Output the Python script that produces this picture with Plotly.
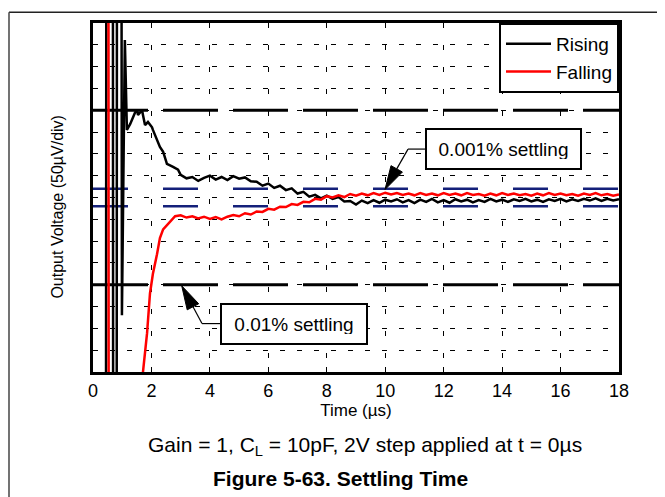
import plotly.graph_objects as go

## settling time curves, time in us, output in uV (50uV per division)
rising_t = [0.0, 0.43, 0.47, 0.67, 0.70, 0.80, 0.83, 0.95, 0.99, 1.09, 1.16, 1.27, 1.44, 1.51, 1.54,
            1.68, 1.71, 1.78, 1.88, 2.02, 2.05, 2.19, 2.29, 2.40, 2.53, 2.74, 2.91,
            3.0, 3.2, 3.4, 3.6, 3.8, 4.0, 4.2, 4.4, 4.6, 4.8, 5.0, 5.2, 5.4, 5.6, 5.8, 6.0,
            6.2, 6.4, 6.6, 6.8, 7.0, 7.2, 7.4, 7.6, 7.8, 8.0, 8.2, 8.4, 8.6, 8.8, 9.0, 9.2,
            9.4, 9.6, 9.8, 10.0, 10.2, 10.4, 10.6, 10.8, 11.0, 11.2, 11.4, 11.6, 11.8, 12.0,
            12.2, 12.4, 12.6, 12.8, 13.0, 13.2, 13.4, 13.6, 13.8, 14.0, 14.2, 14.4, 14.6, 14.8,
            15.0, 15.2, 15.4, 15.6, 15.8, 16.0, 16.2, 16.4, 16.6, 16.8, 17.0, 17.2, 17.4, 17.6,
            17.8, 18.0]
rising_v = [-2000, -2000, 2000, 2000, -2000, -2000, 2000, 2000, -270, 361, 155, 168, 195, 200, 189,
            200, 189, 166, 173, 161, 155, 132, 116, 105, 77, 70, 64,
            52, 44, 47, 38, 45, 50, 41, 47, 40, 49, 43, 46, 37, 36, 27, 32,
            22, 27, 17, 21, 9, 13, 2, 6, -2, 4, -3, 1, -9, -8, -16, -7,
            -13, -6, -12, -5, -9, -4, -11, -6, -13, -5, -10, -3, -11, -6,
            -12, -4, -9, -5, -11, -6, -10, -3, -9, -5, -10, -4, -8, -3,
            -9, -5, -10, -4, -8, -3, -9, -4, -8, -3, -7, -2, -8, -3,
            -7, -4]

falling_t = [0.0, 0.52, 0.545, 1.55, 1.71, 1.85, 1.95, 2.05, 2.19, 2.29, 2.40, 2.64, 2.81,
             3.0, 3.2, 3.4, 3.6, 3.8, 4.0, 4.2, 4.4, 4.6, 4.8, 5.0, 5.2, 5.4, 5.6, 5.8, 6.0,
             6.2, 6.4, 6.6, 6.8, 7.0, 7.2, 7.4, 7.6, 7.8, 8.0, 8.2, 8.4, 8.6, 8.8, 9.0, 9.2,
             9.4, 9.6, 9.8, 10.0, 10.2, 10.4, 10.6, 10.8, 11.0, 11.2, 11.4, 11.6, 11.8, 12.0,
             12.2, 12.4, 12.6, 12.8, 13.0, 13.2, 13.4, 13.6, 13.8, 14.0, 14.2, 14.4, 14.6, 14.8,
             15.0, 15.2, 15.4, 15.6, 15.8, 16.0, 16.2, 16.4, 16.6, 16.8, 17.0, 17.2, 17.4, 17.6,
             17.8, 18.0]
falling_v = [2000, 2000, -2000, -2000, -400, -311, -220, -175, -130, -93, -73, -55, -43,
             -41, -46, -43, -48, -44, -49, -45, -50, -44, -40, -43, -36, -39, -32, -33, -26,
             -28, -21, -22, -15, -17, -10, -11, -3, -5, 3, 0, 5, 1, 8, 4, 9,
             5, 10, 6, 11, 7, 10, 6, 9, 5, 10, 6, 9, 5, 10,
             6, 9, 5, 10, 6, 8, 4, 9, 5, 10, 6, 9, 5, 8,
             4, 9, 5, 10, 6, 9, 5, 8, 4, 9, 6, 10, 5, 8,
             4, 7]

## settling bands (uV)
band_001 = 200    # 0.01% of 2V
band_0001 = 20    # 0.001% of 2V

x_ticks = [0, 2, 4, 6, 8, 10, 12, 14, 16, 18]

FONT = "Arial, Liberation Sans, sans-serif"

fig = go.Figure()
fig.add_trace(go.Scatter(x=rising_t, y=rising_v, mode="lines", name="Rising",
                         line=dict(color="black", width=2.5)))
fig.add_trace(go.Scatter(x=falling_t, y=falling_v, mode="lines", name="Falling",
                         line=dict(color="#ff0000", width=2.5)))

## settling band lines
for v in [band_001, -band_001]:
    fig.add_shape(type="line", xref="x", yref="y", x0=0, x1=18, y0=v, y1=v,
                  line=dict(color="black", width=3, dash="55px,15px"), layer="below")
for v in [band_0001, -band_0001]:
    fig.add_shape(type="line", xref="x", yref="y", x0=0, x1=18, y0=v, y1=v,
                  line=dict(color="#14207a", width=2.5, dash="35px,35px"), layer="below")

## callout leader lines (elbow + shaft) and arrow heads
thin = dict(color="black", width=1.2)
fig.add_shape(type="line", x0=10.78, x1=11.36, y0=111, y1=111, line=thin)
fig.add_shape(type="line", x0=10.78, x1=10.394, y0=111, y1=65.7, line=thin)
fig.add_shape(type="path", path="M 9.992 18.2 L 10.588 58.4 L 10.198 73.0 Z",
              fillcolor="black", line=dict(color="black", width=1))
fig.add_shape(type="line", x0=3.73, x1=4.35, y0=-289, y1=-289, line=thin)
fig.add_shape(type="line", x0=3.73, x1=3.422, y0=-289, y1=-250.5, line=thin)
fig.add_shape(type="path", path="M 3.035 -202.3 L 3.617 -243.6 L 3.224 -257.5 Z",
              fillcolor="black", line=dict(color="black", width=1))

## page frame lines
fig.add_shape(type="line", xref="paper", yref="paper", x0=-0.1597, x1=1.09, y0=1.031, y1=1.031,
              line=dict(color="#222", width=1.5))
fig.add_shape(type="line", xref="paper", yref="paper", x0=-0.1597, x1=-0.1597, y0=1.031, y1=-0.36,
              line=dict(color="#444", width=1.5))

## callout boxes
fig.add_annotation(x=14.05, y=111, text="0.001% settling", showarrow=False,
                   font=dict(family=FONT, size=19, color="black"),
                   bgcolor="white", bordercolor="black", borderwidth=2, borderpad=9,
                   width=135, height=20)
fig.add_annotation(x=6.88, y=-291, text="0.01% settling", showarrow=False,
                   font=dict(family=FONT, size=19, color="black"),
                   bgcolor="white", bordercolor="black", borderwidth=2, borderpad=9,
                   width=126, height=20)

## y axis title
fig.add_annotation(x=-0.0665, y=0.474, xref="paper", yref="paper", showarrow=False,
                   xanchor="center", yanchor="middle", textangle=-90,
                   text="Output Voltage (50µV/div)",
                   font=dict(family=FONT, size=16, color="black"))

## captions
fig.add_annotation(x=0.517, y=-0.213, xref="paper", yref="paper", showarrow=False,
                   xanchor="center", yanchor="middle",
                   text="Gain = 1, C<sub>L</sub> = 10pF, 2V step applied at t = 0µs",
                   font=dict(family=FONT, size=21, color="black"))
fig.add_annotation(x=0.471, y=-0.304, xref="paper", yref="paper", showarrow=False,
                   xanchor="center", yanchor="middle",
                   text="<b>Figure 5-63. Settling Time</b>",
                   font=dict(family=FONT, size=21, color="black"))

## page body has an 8px margin, so the figure is offset by that
fig.update_layout(
    width=657, height=489,
    margin=dict(l=85, r=46, t=12, b=125),
    paper_bgcolor="white", plot_bgcolor="white",
    font=dict(family=FONT, size=16, color="black"),
    showlegend=True,
    legend=dict(x=1, y=1, xanchor="right", yanchor="top", bgcolor="white",
                bordercolor="black", borderwidth=2, font=dict(size=19), itemwidth=45),
    xaxis=dict(range=[0, 18], tickvals=x_ticks, ticks="inside", ticklen=5, tickcolor="black",
               showline=True, linecolor="black", linewidth=3, mirror=True,
               showgrid=True, gridcolor="black", gridwidth=1, griddash="5px,17px",
               zeroline=False, tickfont=dict(size=18),
               title=dict(text="Time (µs)", font=dict(size=17), standoff=4)),
    yaxis=dict(range=[-400, 400], dtick=50, showticklabels=False, ticks="",
               showline=True, linecolor="black", linewidth=3, mirror=True,
               showgrid=True, gridcolor="black", gridwidth=1, griddash="5px,12px",
               zeroline=False),
)

fig.write_html("out.html")
